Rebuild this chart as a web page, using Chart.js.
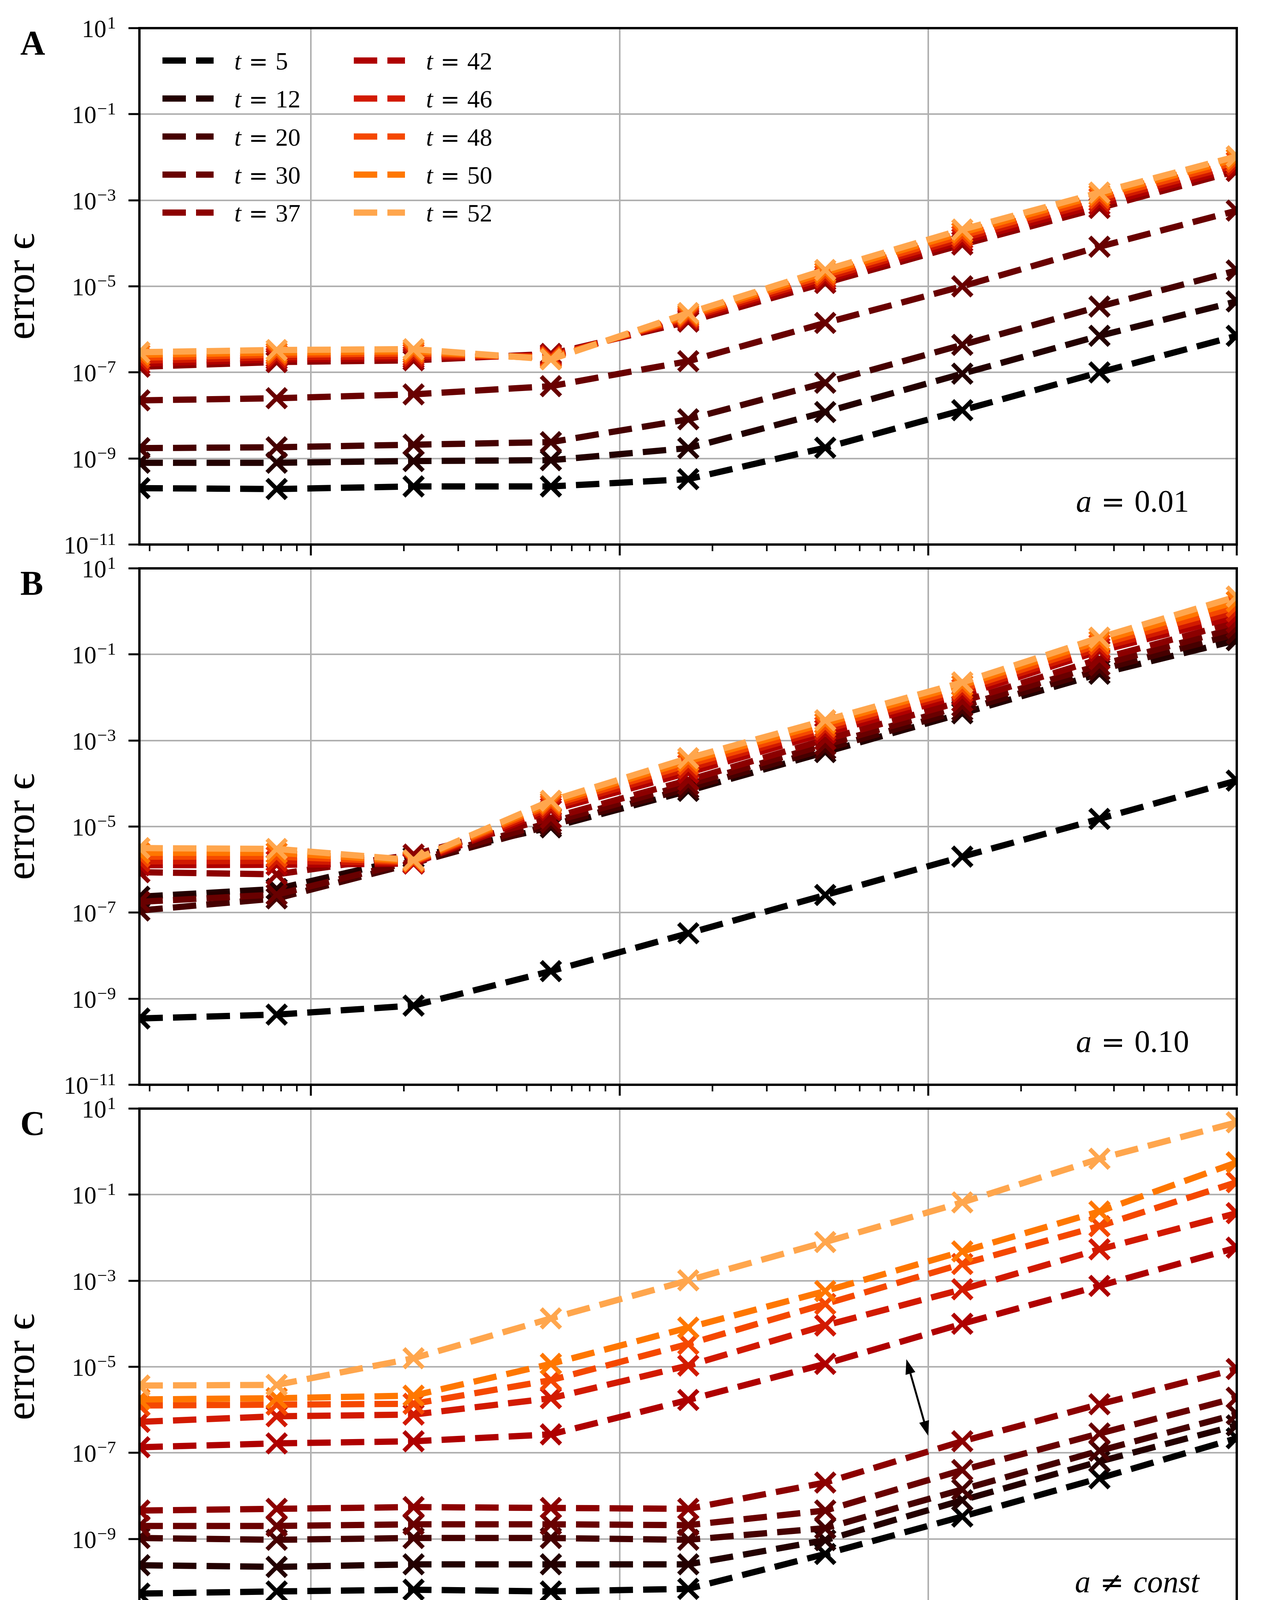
<!DOCTYPE html>
<html><head><meta charset="utf-8">
<script src="https://cdn.jsdelivr.net/npm/chart.js@4.4.1/dist/chart.umd.min.js"></script>
<style>
html,body{margin:0;padding:0;background:#fff;}
body{width:3247px;height:4438px;position:relative;overflow:hidden;}
canvas{position:absolute;left:0;}
</style></head><body>
<canvas id="cA" width="3247" height="1700" style="top:0px"></canvas>
<canvas id="cB" width="3247" height="1700" style="top:1383px"></canvas>
<canvas id="cC" width="3247" height="1672" style="top:2766px"></canvas>
<script>
// ---------------- data ----------------
const timesteps = [2.78e-5, 7.74e-5, 2.15e-4, 5.99e-4, 1.67e-3, 4.64e-3, 1.29e-2, 3.59e-2, 1.0e-1];
const seriesT = [5, 12, 20, 30, 37, 42, 46, 48, 50, 52];
const seriesColors = ['#000000','#230000','#460000','#690000','#8c0000','#af0000','#d21a00','#f54800','#ff7700','#ffa64d'];

// Panel A (a = 0.01)
const A05 = [2.04e-10, 1.95e-10, 2.24e-10, 2.24e-10, 3.31e-10, 1.78e-9, 1.32e-8, 1.0e-7, 7.08e-7];
const A12 = [7.94e-10, 7.94e-10, 8.71e-10, 9.12e-10, 1.74e-9, 1.20e-8, 9.33e-8, 7.08e-7, 4.47e-6];
const A20 = [1.74e-9, 1.82e-9, 2.09e-9, 2.40e-9, 8.13e-9, 5.75e-8, 4.37e-7, 3.39e-6, 2.34e-5];
const A30 = [2.24e-8, 2.51e-8, 3.09e-8, 4.79e-8, 1.82e-7, 1.41e-6, 1.0e-5, 8.32e-5, 5.75e-4];
const A37 = [1.35e-7, 1.74e-7, 1.91e-7, 2.69e-7, 1.51e-6, 1.20e-5, 9.33e-5, 6.61e-4, 4.79e-3];
const A42 = [1.58e-7, 2.00e-7, 2.14e-7, 2.51e-7, 1.66e-6, 1.38e-5, 1.10e-4, 7.94e-4, 5.62e-3];
const A46 = [1.86e-7, 2.24e-7, 2.40e-7, 2.34e-7, 1.82e-6, 1.58e-5, 1.29e-4, 9.55e-4, 6.61e-3];
const A48 = [2.19e-7, 2.57e-7, 2.75e-7, 2.24e-7, 2.00e-6, 1.82e-5, 1.51e-4, 1.12e-3, 7.76e-3];
const A50 = [2.57e-7, 2.88e-7, 3.09e-7, 2.09e-7, 2.19e-6, 2.09e-5, 1.78e-4, 1.32e-3, 9.12e-3];
const A52 = [2.95e-7, 3.31e-7, 3.47e-7, 2.00e-7, 2.40e-6, 2.40e-5, 2.09e-4, 1.51e-3, 1.05e-2];

// Panel B (a = 0.10)
const B05 = [3.47e-10, 4.27e-10, 6.92e-10, 4.37e-9, 3.31e-8, 2.57e-7, 2.0e-6, 1.51e-5, 1.17e-4];
const B12 = [2.34e-7, 3.55e-7, 1.91e-6, 9.55e-6, 6.76e-5, 5.37e-4, 4.27e-3, 3.55e-2, 0.214];
const B20 = [1.12e-7, 2.14e-7, 1.41e-6, 1.07e-5, 7.76e-5, 6.31e-4, 5.01e-3, 4.37e-2, 0.302];
const B30 = [1.78e-7, 2.63e-7, 1.58e-6, 1.26e-5, 9.55e-5, 7.94e-4, 6.31e-3, 5.62e-2, 0.417];
const B37 = [8.71e-7, 7.76e-7, 2.24e-6, 1.58e-5, 1.20e-4, 1.05e-3, 8.13e-3, 7.76e-2, 0.562];
const B42 = [1.26e-6, 1.29e-6, 1.38e-6, 2.40e-5, 1.78e-4, 1.48e-3, 1.12e-2, 0.120, 0.759];
const B46 = [1.55e-6, 1.58e-6, 1.45e-6, 2.75e-5, 2.24e-4, 1.78e-3, 1.35e-2, 0.141, 1.00];
const B48 = [2.00e-6, 2.00e-6, 1.51e-6, 3.16e-5, 2.75e-4, 2.09e-3, 1.58e-2, 0.170, 1.29];
const B50 = [2.45e-6, 2.45e-6, 1.58e-6, 3.55e-5, 3.31e-4, 2.51e-3, 1.91e-2, 0.204, 1.70];
const B52 = [3.16e-6, 3.02e-6, 1.66e-6, 3.98e-5, 3.89e-4, 2.95e-3, 2.24e-2, 0.245, 2.21];

// Panel C (a != const)
const C05 = [5.37e-11, 6.03e-11, 6.61e-11, 6.03e-11, 6.92e-11, 4.47e-10, 3.31e-9, 2.57e-8, 2.19e-7];
const C12 = [2.45e-10, 2.24e-10, 2.57e-10, 2.57e-10, 2.57e-10, 9.33e-10, 7.94e-9, 6.31e-8, 4.37e-7];
const C20 = [1.05e-9, 9.55e-10, 1.05e-9, 1.05e-9, 9.55e-10, 1.78e-9, 1.41e-8, 1.12e-7, 7.94e-7];
const C30 = [2.00e-9, 2.00e-9, 2.19e-9, 2.19e-9, 2.09e-9, 4.57e-9, 3.98e-8, 2.82e-7, 1.91e-6];
const C37 = [4.57e-9, 5.01e-9, 5.50e-9, 5.25e-9, 5.01e-9, 2.04e-8, 1.86e-7, 1.35e-6, 8.91e-6];
const C42 = [1.35e-7, 1.66e-7, 1.86e-7, 2.69e-7, 1.70e-6, 1.17e-5, 1.00e-4, 7.59e-4, 5.89e-3];
const C46 = [5.25e-7, 7.08e-7, 7.76e-7, 1.86e-6, 1.07e-5, 9.12e-5, 6.31e-4, 5.37e-3, 3.72e-2];
const C48 = [1.26e-6, 1.32e-6, 1.38e-6, 4.90e-6, 3.39e-5, 2.88e-4, 2.45e-3, 1.86e-2, 0.195];
const C50 = [1.74e-6, 1.86e-6, 2.14e-6, 1.17e-5, 8.13e-5, 5.75e-4, 4.79e-3, 4.07e-2, 0.562];
const C52 = [3.67e-6, 3.80e-6, 1.58e-5, 1.33e-4, 1.02e-3, 7.94e-3, 6.61e-2, 0.684, 4.79];

const panelASeries = [A05, A12, A20, A30, A37, A42, A46, A48, A50, A52];
const panelBSeries = [B05, B12, B20, B30, B37, B42, B46, B48, B50, B52];
const panelCSeries = [C05, C12, C20, C30, C37, C42, C46, C48, C50, C52];

// ticks
const yTickValues = [1e1, 1e-1, 1e-3, 1e-5, 1e-7, 1e-9, 1e-11];
const yTickExponents = ['1', '\u22121', '\u22123', '\u22125', '\u22127', '\u22129', '\u221211'];
const xTickValues = [1e-4, 1e-3, 1e-2, 1e-1];
const xTickExponents = ['\u22124', '\u22123', '\u22122', '\u22121'];
const xMinorMultipliers = [2, 3, 4, 5, 6, 7, 8, 9];
const xMinorDecades = [1e-5, 1e-4, 1e-3, 1e-2];

// texts
const panelLetters = ['A', 'B', 'C'];
const EQ = {t:'=', math:true}, NEQ = {t:'\u2260', math:true}, GAP = {gap:0.3};
const panelNotes = [
  [{t:'a', it:true}, GAP, EQ, GAP, {t:'0.01'}],
  [{t:'a', it:true}, GAP, EQ, GAP, {t:'0.10'}],
  [{t:'a', it:true}, GAP, NEQ, GAP, {t:'const', it:true}]
];
// arrow in panel C: [x0, y0] -> [x1, y1] in data units
const arrowStart = [8.5e-3, 1.5e-5];
const arrowEnd = [1.0e-2, 2.5e-7];

// ---------------- styling ----------------
const FONT = '"Liberation Serif", "DejaVu Serif", serif';
const MATHFONT = '"DejaVu Serif", serif';
function fnt(size, it, bold, math) { return (it ? 'italic ' : '') + (bold ? 'bold ' : '') + size + 'px ' + (math ? MATHFONT : FONT); }
function drawRich(ctx, parts, size, x, y, align) {
  const w = parts.map(p => {
    if (p.gap !== undefined) return p.gap * size;
    ctx.font = fnt(size * (p.math ? 0.92 : 1), p.it, p.b, p.math); return ctx.measureText(p.t).width;
  });
  const total = w.reduce((a, b) => a + b, 0);
  let cx = align === 'right' ? x - total : (align === 'center' ? x - total / 2 : x);
  ctx.textAlign = 'left'; ctx.textBaseline = 'alphabetic';
  parts.forEach((p, i) => {
    if (p.gap === undefined) { ctx.font = fnt(size * (p.math ? 0.92 : 1), p.it, p.b, p.math); ctx.fillText(p.t, cx, y); }
    cx += w[i];
  });
}

const decorPlugin = {
  id: 'decor',
  afterDatasetsDraw(chart) {
    const o = chart.options.plugins.decor;
    const ctx = chart.ctx, a = chart.chartArea;
    const xs = chart.scales.x, ys = chart.scales.y;
    ctx.save();
    ctx.fillStyle = '#000'; ctx.strokeStyle = '#000';
    // arrow
    if (o.arrow) {
      ctx.save();
      ctx.beginPath(); ctx.rect(a.left, a.top, a.right - a.left, a.bottom - a.top); ctx.clip();
      const x0 = xs.getPixelForValue(arrowStart[0]), y0 = ys.getPixelForValue(arrowStart[1]);
      const x1 = xs.getPixelForValue(arrowEnd[0]), y1 = ys.getPixelForValue(arrowEnd[1]);
      const ang = Math.atan2(y1 - y0, x1 - x0);
      const hl = 38, hw = 13;
      const ux = Math.cos(ang), uy = Math.sin(ang);
      ctx.lineWidth = 5;
      ctx.beginPath(); ctx.moveTo(x0 + ux * hl * 0.8, y0 + uy * hl * 0.8); ctx.lineTo(x1 - ux * hl * 0.8, y1 - uy * hl * 0.8); ctx.stroke();
      const head = (tx, ty, dx, dy) => {
        ctx.beginPath(); ctx.moveTo(tx, ty);
        ctx.lineTo(tx - dx * hl - dy * hw, ty - dy * hl + dx * hw);
        ctx.lineTo(tx - dx * hl + dy * hw, ty - dy * hl - dx * hw);
        ctx.closePath(); ctx.fill();
      };
      head(x1, y1, ux, uy); head(x0, y0, -ux, -uy);
      ctx.restore();
    }
    // frame
    ctx.lineWidth = 6;
    ctx.strokeRect(a.left, a.top, a.right - a.left, a.bottom - a.top);
    // minor x ticks
    ctx.lineWidth = 4;
    xMinorDecades.forEach(d => xMinorMultipliers.forEach(m => {
      const v = d * m;
      if (v < xs.min || v > xs.max) return;
      const px = xs.getPixelForValue(v);
      ctx.beginPath(); ctx.moveTo(px, a.bottom); ctx.lineTo(px, a.bottom + 17); ctx.stroke();
    }));
    // y tick labels
    yTickValues.forEach((v, i) => {
      const py = ys.getPixelForValue(v);
      const right = a.left - 60;
      ctx.font = fnt(45); const we = ctx.measureText(yTickExponents[i]).width;
      ctx.textAlign = 'left'; ctx.textBaseline = 'alphabetic';
      ctx.fillText(yTickExponents[i], right - we, py + 1);
      ctx.font = fnt(63); const wb = ctx.measureText('10').width;
      ctx.fillText('10', right - we - wb - 2, py + 23);
    });
    // x tick labels
    if (o.xLabels) {
      xTickValues.forEach((v, i) => {
        const px = xs.getPixelForValue(v);
        ctx.font = fnt(45); const we = ctx.measureText(xTickExponents[i]).width;
        ctx.font = fnt(63); const wb = ctx.measureText('10').width;
        const start = px - (wb + 2 + we) / 2;
        ctx.fillText('10', start, a.bottom + 102);
        ctx.font = fnt(45); ctx.fillText(xTickExponents[i], start + wb + 2, a.bottom + 77);
      });
      drawRich(ctx, [{t:'timestep \u0394'}, {t:'t', it:true}], 105, (a.left + a.right) / 2, a.bottom + 222, 'center');
    }
    // y label
    ctx.save();
    ctx.translate(a.left - 270, (a.top + a.bottom) / 2);
    ctx.rotate(-Math.PI / 2);
    drawRich(ctx, [{t:'error '}, {t:'\u03F5'}], 105, 0, 0, 'center');
    ctx.restore();
    // panel letter
    drawRich(ctx, [{t:panelLetters[o.index], b:true}], 88, a.left - 305, a.top + 67, 'left');
    // note
    drawRich(ctx, panelNotes[o.index], 80, a.right - o.noteRight, a.bottom - 84, 'right');
    // legend
    if (o.legend) {
      seriesT.forEach((t, i) => {
        const col = Math.floor(i / 5), row = i % 5;
        const y = a.top + 83 + row * 97.3;
        const hx = a.left + (col === 0 ? 59 : 549);
        const tx = a.left + (col === 0 ? 243 : 734);
        ctx.save();
        ctx.strokeStyle = seriesColors[i]; ctx.lineWidth = 16; ctx.lineCap = 'butt';
        ctx.setLineDash([60, 26]);
        ctx.beginPath(); ctx.moveTo(hx, y); ctx.lineTo(hx + 131, y); ctx.stroke();
        ctx.restore();
        drawRich(ctx, [{t:'t', it:true}, GAP, EQ, GAP, {t:String(t)}], 64, tx, y + 23, 'left');
      });
    }
    ctx.restore();
  }
};

function makeChart(id, series, idx, canvasH, opts) {
  const datasets = series.map((vals, i) => ({
    label: 't = ' + seriesT[i],
    data: timesteps.map((x, k) => ({x: x, y: vals[k]})),
    borderColor: seriesColors[i],
    backgroundColor: seriesColors[i],
    borderWidth: 16,
    borderDash: [60, 26],
    borderCapStyle: 'butt',
    borderJoinStyle: 'round',
    pointStyle: 'crossRot',
    pointRadius: 35,
    pointHoverRadius: 35,
    pointBorderWidth: 11,
    pointBorderColor: seriesColors[i],
    pointBackgroundColor: seriesColors[i],
    tension: 0,
    fill: false,
    clip: 0,
    order: series.length - 1 - i
  }));
  const xAxisH = 60;
  return new Chart(document.getElementById(id), {
    type: 'line',
    data: {datasets},
    plugins: [decorPlugin],
    options: {
      responsive: false,
      maintainAspectRatio: false,
      devicePixelRatio: 1,
      animation: false,
      events: [],
      layout: {autoPadding: false, padding: {left: 0, right: 3247 - 3167, top: 72, bottom: canvasH - 1394 - xAxisH}},
      plugins: {
        legend: {display: false},
        tooltip: {enabled: false},
        decor: Object.assign({index: idx}, opts)
      },
      scales: {
        x: {
          type: 'logarithmic',
          bounds: 'data',
          min: timesteps[0],
          max: timesteps[timesteps.length - 1],
          afterBuildTicks: s => { s.ticks = xTickValues.map(v => ({value: v, major: true})); },
          afterFit: s => { s.height = xAxisH; s.paddingLeft = 0; s.paddingRight = 0; s.paddingTop = 0; s.paddingBottom = 0; },
          ticks: {display: false},
          border: {display: false},
          grid: {color: '#b0b0b0', lineWidth: 4, drawTicks: true, tickLength: 28, tickColor: '#000', tickWidth: 5}
        },
        y: {
          type: 'logarithmic',
          bounds: 'data',
          min: 1e-11,
          max: 1e1,
          afterBuildTicks: s => { s.ticks = yTickValues.map(v => ({value: v, major: true})); },
          afterFit: s => { s.width = 357; s.paddingLeft = 0; s.paddingRight = 0; s.paddingTop = 0; s.paddingBottom = 0; },
          ticks: {display: false},
          border: {display: false},
          grid: {color: '#b0b0b0', lineWidth: 4, drawTicks: true, tickLength: 28, tickColor: '#000', tickWidth: 5}
        }
      }
    }
  });
}

makeChart('cA', panelASeries, 0, 1700, {legend: true, xLabels: false, arrow: false, noteRight: 122});
makeChart('cB', panelBSeries, 1, 1700, {legend: false, xLabels: false, arrow: false, noteRight: 122});
makeChart('cC', panelCSeries, 2, 1672, {legend: false, xLabels: true, arrow: true, noteRight: 96});
</script>
</body></html>
